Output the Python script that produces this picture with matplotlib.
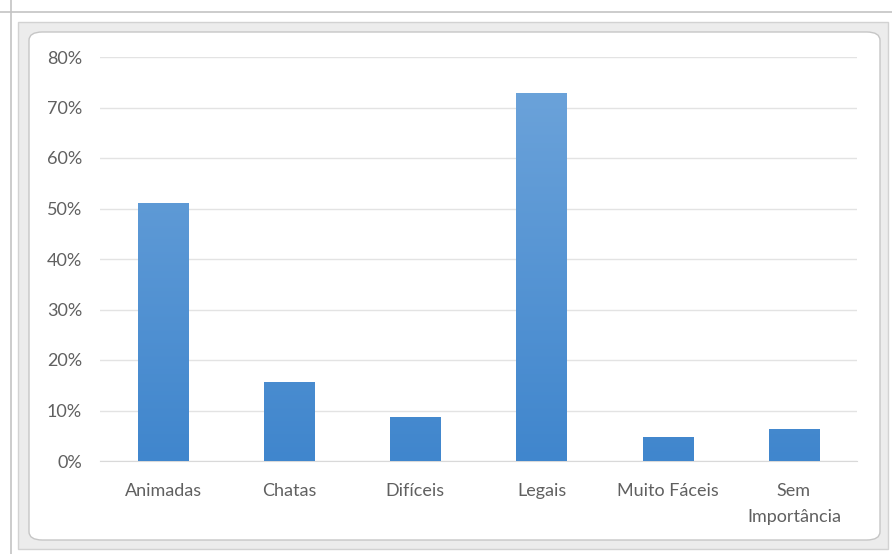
import numpy as np
import matplotlib.pyplot as plt
from matplotlib.patches import FancyBboxPatch, Rectangle
from matplotlib.lines import Line2D
from matplotlib.ticker import PercentFormatter
from matplotlib.colors import LinearSegmentedColormap

categories = ["Animadas", "Chatas", "Difíceis", "Legais", "Muito Fáceis", "Sem\nImportância"]
values = [0.511, 0.156, 0.087, 0.729, 0.048, 0.063]
y_ticks = [0, 0.1, 0.2, 0.3, 0.4, 0.5, 0.6, 0.7, 0.8]

plt.rcParams['font.family'] = ['Lato', 'DejaVu Sans']

W, H = 892, 554
fig = plt.figure(figsize=(W / 100, H / 100), dpi=100)


def px(x, y):
    # pixel coords (top-left origin) -> figure fraction
    return x / W, 1 - y / H


# window / selection frame around the chart (drawn under the axes)
fig.add_artist(Line2D([0, 1], [1 - 12 / H] * 2, color="#c4c4c4", lw=1.2, zorder=-3))
fig.add_artist(Line2D([11 / W] * 2, [0, 1], color="#c4c4c4", lw=1.2, zorder=-3))
fig.add_artist(Rectangle(px(18, 549), 870 / W, 527 / H, facecolor="#ececec",
                         edgecolor="#d2d2d2", lw=1.0, zorder=-2))
fig.add_artist(FancyBboxPatch(px(29, 540), 851 / W, 508 / H,
                              boxstyle="round,pad=0,rounding_size=0.015",
                              facecolor="white", edgecolor="#c6c6c6", lw=1.0, zorder=-1))

ax = fig.add_axes([100 / W, 1 - 461 / H, 757 / W, 404 / H])
ax.set_facecolor("none")

x = np.arange(len(categories))
bars = ax.bar(x, values, width=0.4, color="#5a97d6", zorder=2)

# vertical gradient on the bars
cmap = LinearSegmentedColormap.from_list("bluegrad", ["#4086cd", "#6fa5db"])
grad = np.linspace(0, 1, 256).reshape(-1, 1)
for b in bars:
    im = ax.imshow(grad, cmap=cmap, aspect="auto", origin="lower",
                   extent=[b.get_x(), b.get_x() + b.get_width(), 0, 0.8], zorder=3)
    im.set_clip_path(b)

ax.set_xlim(-0.5, len(categories) - 0.5)
ax.set_ylim(0, 0.8)
ax.set_yticks(y_ticks)
ax.yaxis.set_major_formatter(PercentFormatter(1.0, decimals=0))
ax.set_xticks(x)
ax.set_xticklabels(categories, linespacing=1.75)

ax.grid(axis="y", color="#e3e3e3", lw=1.0, zorder=0)
ax.set_axisbelow(True)
for s in ["top", "right", "left"]:
    ax.spines[s].set_visible(False)
ax.spines["bottom"].set_color("#d9d9d9")
ax.tick_params(axis="both", length=0, labelsize=13, colors="#606060")
ax.tick_params(axis="y", pad=13)
ax.tick_params(axis="x", pad=16)

fig.savefig("out.png", dpi=100)
